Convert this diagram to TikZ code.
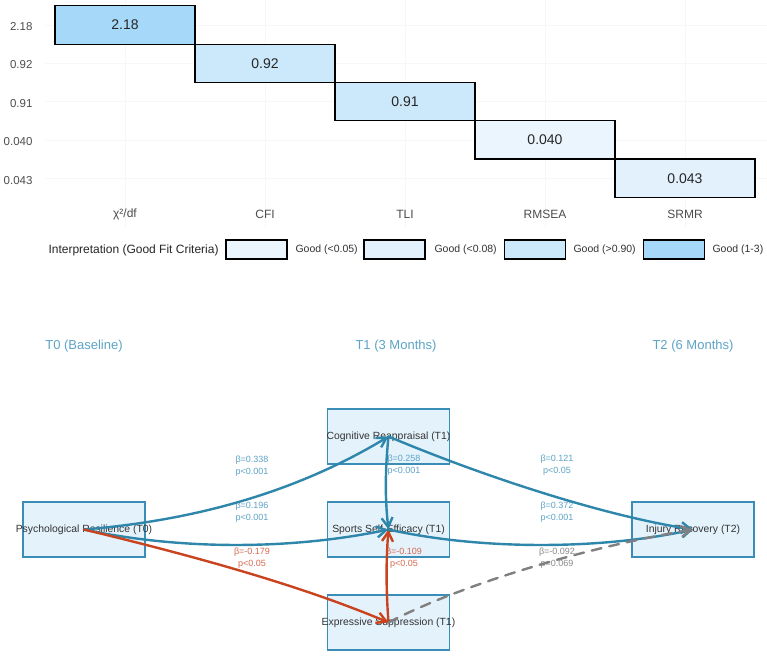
\documentclass[tikz,border=0pt]{standalone}
\usepackage{fontspec}
\setmainfont{Liberation Sans}
\usepackage{tikz}
\usetikzlibrary{arrows.meta, positioning}
\definecolor{pathblue}{HTML}{2E86AB}
\definecolor{pathred}{HTML}{C9431F}
\definecolor{pathgray}{HTML}{808080}
\definecolor{lblblue}{HTML}{5DA4C7}
\definecolor{lblred}{HTML}{D66A50}
\definecolor{lblgray}{HTML}{8A8A8A}
\definecolor{boxfill}{HTML}{E4F2FC}
\definecolor{boxline}{HTML}{3A8DB6}
\definecolor{fitdark}{HTML}{A6D8FA}
\definecolor{fitmid}{HTML}{CCE8FB}
\definecolor{fitlight}{HTML}{E2F1FC}
\definecolor{fitpale}{HTML}{EBF5FE}
\definecolor{axisgray}{HTML}{4D4D4D}
\newcommand{\widetext}[1]{\makebox[0pt]{#1}}

\begin{document}
\begin{tikzpicture}[x=1pt, y=-1pt,
    fitcell/.style={draw=black, line width=1.2pt, minimum width=140pt, minimum height=38.3pt,
        inner sep=0pt, font=\fontsize{14}{16}\selectfont, text=black!85},
    ylab/.style={anchor=east, font=\fontsize{11.5}{13}\selectfont, text=axisgray},
    xlab/.style={font=\fontsize{12}{14}\selectfont, text=axisgray},
    keybox/.style={draw=black, line width=1.2pt, minimum width=61pt, minimum height=19pt, inner sep=0pt},
    keytext/.style={anchor=west, font=\fontsize{10.5}{12}\selectfont, text=black!80},
    phase/.style={font=\fontsize{13}{15}\selectfont, text=lblblue},
    varbox/.style={draw=boxline, fill=boxfill, line width=1.3pt, minimum width=122pt, minimum height=55pt,
        inner sep=0pt, font=\fontsize{10.4}{12}\selectfont, text=black!80},
    coef/.style={align=center, font=\fontsize{9}{12}\selectfont},
    effect/.style={line width=2.4pt, line cap=round, -{Straight Barb[angle=60:11pt]}},
]
    \useasboundingbox[fill=white] (0,0) rectangle (767,656);

    % faint grid
    \foreach \gx in {125,265,405,545,685}
        \draw[black!3, line width=0.6pt] (\gx,0) -- (\gx,228);
    \foreach \gy in {25,63,101.5,140,178}
        \draw[black!3, line width=0.6pt] (45,\gy) -- (767,\gy);

    % Fit indices
    \node[fitcell, fill=fitdark] (chisq) at (125,25) {2.18};
    \node[fitcell, fill=fitmid] (cfi) at (265,63.3) {0.92};
    \node[fitcell, fill=fitmid] (tli) at (405,101.6) {0.91};
    \node[fitcell, fill=fitpale] (rmsea) at (545,139.9) {0.040};
    \node[fitcell, fill=fitlight] (srmr) at (685,178.2) {0.043};

    \node[ylab] (ychisq) at (36,27) {2.18};
    \node[ylab] (ycfi) at (36,65) {0.92};
    \node[ylab] (ytli) at (36,104) {0.91};
    \node[ylab] (yrmsea) at (36,142) {0.040};
    \node[ylab] (ysrmr) at (36,181) {0.043};

    \node[xlab] (xchisq) at (125,214) {χ²/df};
    \node[xlab] (xcfi) at (265,214) {CFI};
    \node[xlab] (xtli) at (405,214) {TLI};
    \node[xlab] (xrmsea) at (545,214) {RMSEA};
    \node[xlab] (xsrmr) at (685,214) {SRMR};

    % Legend
    \node[anchor=west, font=\fontsize{12}{14}\selectfont, text=black!85] (legtitle) at (45,250) {Interpretation (Good Fit Criteria)};
    \node[keybox, fill=fitpale] (key1) at (256.5,249.5) {};
    \node[keytext] (keytext1) at (292,250) {Good (<0.05)};
    \node[keybox, fill=fitlight] (key2) at (394.5,249.5) {};
    \node[keytext] (keytext2) at (431,250) {Good (<0.08)};
    \node[keybox, fill=fitmid] (key3) at (535,249.5) {};
    \node[keytext] (keytext3) at (570,250) {Good (>0.90)};
    \node[keybox, fill=fitdark] (key4) at (674,249.5) {};
    \node[keytext] (keytext4) at (709,250) {Good (1-3)};

    % Time points
    \node[phase] (t0) at (84,346) {T0 (Baseline)};
    \node[phase] (t1) at (396,346) {T1 (3 Months)};
    \node[phase] (t2) at (693,346) {T2 (6 Months)};

    % Variables
    \node[varbox] (pr) at (84,529.5) {\widetext{Psychological Resilience (T0)}};
    \node[varbox] (cr) at (388.5,436.5) {\widetext{Cognitive Reappraisal (T1)}};
    \node[varbox] (sse) at (388.5,529.5) {\widetext{Sports Self-Efficacy (T1)}};
    \node[varbox] (es) at (388.5,622.5) {\widetext{Expressive Suppression (T1)}};
    \node[varbox] (ir) at (693,529.5) {\widetext{Injury Recovery (T2)}};

    % Coefficients
    \node[coef, text=lblblue] (c1) at (252,466) {β=0.338\\p<0.001};
    \node[coef, text=lblblue] (c2) at (252,512) {β=0.196\\p<0.001};
    \node[coef, text=lblred] (c3) at (252,558) {β=-0.179\\p<0.05};
    \node[coef, text=lblblue] (c4) at (404,465.5) {β=0.258\\p<0.001};
    \node[coef, text=lblred] (c5) at (404,558.5) {β=-0.109\\p<0.05};
    \node[coef, text=lblblue] (c6) at (557,465.5) {β=0.121\\p<0.05};
    \node[coef, text=lblblue] (c7) at (557,512) {β=0.372\\p<0.001};
    \node[coef, text=lblgray] (c8) at (557,558.5) {β=-0.092\\p=0.069};

    % Paths
    \draw[effect, pathblue] (pr.center) .. controls (200,520) and (300,490) .. (cr.center);
    \draw[effect, pathblue] (pr.center) .. controls (180,550) and (290,550) .. (sse.center);
    \draw[effect, pathred] (pr.center) .. controls (190,555) and (300,585) .. (es.center);
    \draw[effect, pathblue] (cr.center) .. controls (385,470) and (385,500) .. (sse.center);
    \draw[effect, pathred] (es.center) .. controls (386,590) and (386,560) .. (sse.center);
    \draw[effect, pathblue] (cr.center) .. controls (480,475) and (600,515) .. (ir.center);
    \draw[effect, pathblue] (sse.center) .. controls (480,550) and (600,550) .. (ir.center);
    \draw[effect, pathgray, dash pattern=on 10pt off 8pt] (es.center) .. controls (450,590) and (570,550) .. (ir.center);

\end{tikzpicture}
\end{document}
